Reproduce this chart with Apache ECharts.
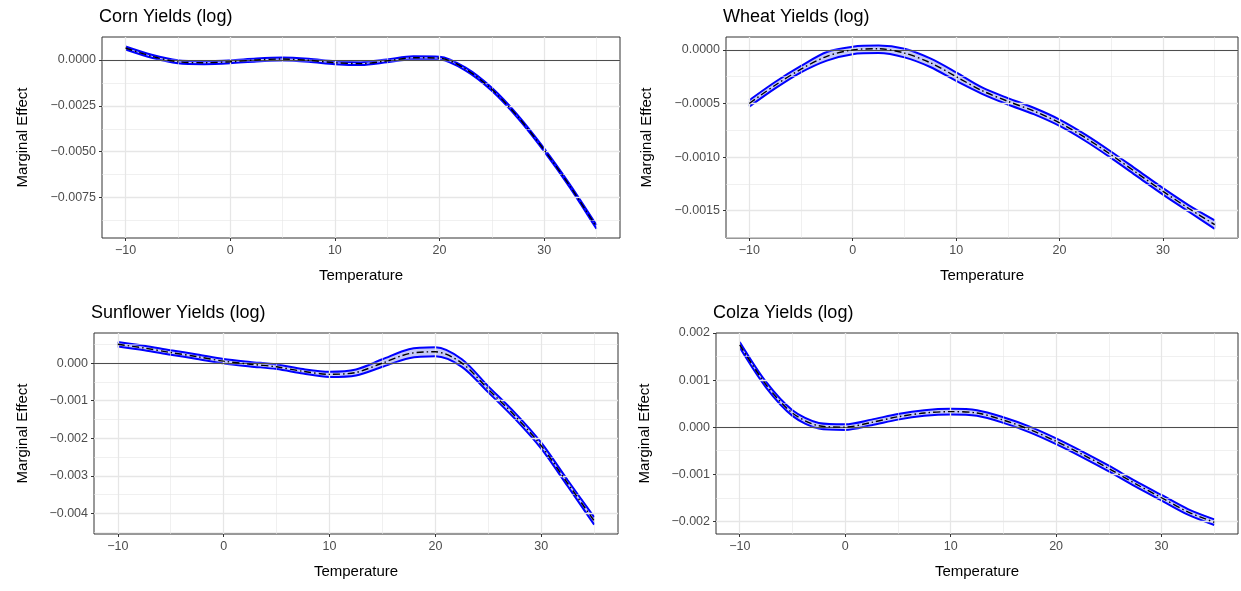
<!DOCTYPE html>
<html>
<head>
<meta charset="utf-8">
<script src="https://cdn.jsdelivr.net/npm/echarts@6/dist/echarts.min.js"></script>
<style>html,body{margin:0;padding:0;background:#fff}#chart{width:1241px;height:591px}</style>
</head>
<body>
<div id="chart"></div>
<script>
// temperature grid shared by all panels
const temps = [-10, -7.5, -5, -2.5, 0, 2.5, 5, 7.5, 10, 12.5, 15, 17.5, 20, 22.5, 25, 27.5, 30, 32.5, 35];

const cornMid = [0.00065, 0.0002, -0.0001, -0.00015, -0.0001, 0.0, 0.00005, -0.00002, -0.00015, -0.0002, -0.00005, 0.00012, 0.0001, -0.0005, -0.0016, -0.0031, -0.0049, -0.0069, -0.0091];
const cornLow = [0.00057, 0.00012, -0.00018, -0.00023, -0.00018, -0.00008, -0.00003, -0.0001, -0.00023, -0.00028, -0.00013, 0.00004, 0.00002, -0.00058, -0.00168, -0.00318, -0.00498, -0.00698, -0.0092];
const cornUpp = [0.00073, 0.00028, -0.00002, -0.00007, -0.00002, 0.00008, 0.00013, 0.00006, -0.00007, -0.00012, 0.00003, 0.0002, 0.00018, -0.00042, -0.00152, -0.00302, -0.00482, -0.00682, -0.009];

const wheatMid = [-0.0005, -0.00033, -0.00018, -0.00006, 0.0, 0.00001, -0.00003, -0.00012, -0.00025, -0.00038, -0.00048, -0.00057, -0.00068, -0.00082, -0.00098, -0.00115, -0.00132, -0.00148, -0.00163];
const wheatLow = [-0.00053, -0.00036, -0.00021, -0.0001, -0.00004, -0.00003, -0.00007, -0.00016, -0.00029, -0.00041, -0.00051, -0.0006, -0.00071, -0.00085, -0.00101, -0.00118, -0.00135, -0.00151, -0.00167];
const wheatUpp = [-0.00047, -0.0003, -0.00015, -0.00002, 0.00003, 0.00004, 0.00001, -0.00008, -0.00021, -0.00035, -0.00045, -0.00054, -0.00065, -0.00079, -0.00095, -0.00112, -0.00129, -0.00145, -0.00159];

const sunMid = [0.0005, 0.0004, 0.00028, 0.00017, 0.00005, -0.00003, -0.0001, -0.00022, -0.0003, -0.00025, 0.0, 0.00025, 0.0003, 0.0, -0.0007, -0.0014, -0.0022, -0.0032, -0.0042];
const sunLow = [0.00044, 0.00034, 0.00022, 0.00011, -0.00001, -0.00009, -0.00016, -0.00028, -0.00037, -0.00033, -0.0001, 0.00013, 0.00018, -0.0001, -0.00078, -0.00148, -0.00228, -0.00328, -0.0043];
const sunUpp = [0.00056, 0.00046, 0.00034, 0.00023, 0.00011, 0.00003, -0.00004, -0.00016, -0.00023, -0.00017, 0.0001, 0.00037, 0.00042, 0.0001, -0.00062, -0.00132, -0.00212, -0.00312, -0.0041];

const colzaMid = [0.00175, 0.0009, 0.0003, 0.00003, 0.0, 0.0001, 0.00022, 0.0003, 0.00033, 0.0003, 0.00015, -0.00005, -0.0003, -0.00058, -0.00088, -0.0012, -0.0015, -0.0018, -0.00202];
const colzaLow = [0.00169, 0.00084, 0.00024, -0.00003, -0.00006, 0.00004, 0.00016, 0.00024, 0.00027, 0.00024, 0.00009, -0.00011, -0.00036, -0.00064, -0.00094, -0.00126, -0.00156, -0.00186, -0.00208];
const colzaUpp = [0.00181, 0.00096, 0.00036, 0.00009, 0.00006, 0.00016, 0.00028, 0.00036, 0.00039, 0.00036, 0.00021, 0.00001, -0.00024, -0.00052, -0.00082, -0.00114, -0.00144, -0.00174, -0.00196];

const titles = ['Corn Yields (log)', 'Wheat Yields (log)', 'Sunflower Yields (log)', 'Colza Yields (log)'];
const xTicks = [-10, 0, 10, 20, 30];
const xGrid = [-10, -5, 0, 5, 10, 15, 20, 25, 30, 35];
const yTicksCorn = [0, -0.0025, -0.005, -0.0075];
const yTicksWheat = [0, -0.0005, -0.001, -0.0015];
const yTicksSun = [0, -0.001, -0.002, -0.003, -0.004];
const yTicksColza = [0.002, 0.001, 0, -0.001, -0.002];

const panels = [
  { mid: cornMid, low: cornLow, upp: cornUpp, ticks: yTicksCorn, dec: 4, min: -0.0097, max: 0.00125, grid: { left: 102, top: 37, width: 518, height: 201 }, gap: 72 },
  { mid: wheatMid, low: wheatLow, upp: wheatUpp, ticks: yTicksWheat, dec: 4, min: -0.001755, max: 0.00012, grid: { left: 726, top: 37, width: 512, height: 201 }, gap: 72 },
  { mid: sunMid, low: sunLow, upp: sunUpp, ticks: yTicksSun, dec: 3, min: -0.00455, max: 0.0008, grid: { left: 94, top: 333, width: 524, height: 201 }, gap: 64 },
  { mid: colzaMid, low: colzaLow, upp: colzaUpp, ticks: yTicksColza, dec: 3, min: -0.00227, max: 0.002, grid: { left: 716, top: 333, width: 522, height: 201 }, gap: 64 }
];

const X_MIN = -12.25, X_MAX = 37.25;
const fmt = (v, d) => (v < 0 ? '\u2212' : '') + Math.abs(v).toFixed(d);
const gridLineStyle = w => ({ color: '#e6e6e6', width: w, type: 'solid' });

const option = { animation: false, title: [], grid: [], xAxis: [], yAxis: [], series: [] };

panels.forEach((p, i) => {
  option.title.push({
    text: titles[i], left: p.grid.left - 8, top: p.grid.top - 34,
    textStyle: { fontFamily: 'Liberation Sans', fontWeight: 'normal', fontSize: 18, color: '#000' }
  });
  option.grid.push(Object.assign({ show: true, borderColor: '#333', borderWidth: 1, backgroundColor: '#fff' }, p.grid));
  option.xAxis.push({
    type: 'value', gridIndex: i, min: X_MIN, max: X_MAX,
    name: 'Temperature', nameLocation: 'middle', nameGap: 30,
    nameTextStyle: { fontFamily: 'Liberation Sans', fontSize: 15, color: '#000' },
    axisLine: { show: false, onZero: false }, splitLine: { show: false },
    axisTick: { show: true, inside: false, customValues: xTicks, length: 3, lineStyle: { color: '#333' } },
    axisLabel: { customValues: xTicks, formatter: v => fmt(v, 0), color: '#4d4d4d', fontSize: 12.5, fontFamily: 'Liberation Sans', margin: 6 }
  });
  option.yAxis.push({
    type: 'value', gridIndex: i, min: p.min, max: p.max,
    name: 'Marginal Effect', nameLocation: 'middle', nameGap: p.gap,
    nameTextStyle: { fontFamily: 'Liberation Sans', fontSize: 15, color: '#000' },
    axisLine: { show: false, onZero: false }, splitLine: { show: false },
    axisTick: { show: true, inside: false, customValues: p.ticks, length: 3, lineStyle: { color: '#333' } },
    axisLabel: { customValues: p.ticks, formatter: v => fmt(v, p.dec), color: '#4d4d4d', fontSize: 12.5, fontFamily: 'Liberation Sans', margin: 6 }
  });

  // background grid lines (major on ticks, minor halfway)
  const step = Math.abs(p.ticks[0] - p.ticks[1]);
  const lines = xGrid.map(x => [
    { coord: [x, p.min], lineStyle: gridLineStyle(x % 10 === 0 ? 1.3 : 0.6) },
    { coord: [x, p.max] }
  ]);
  const yHi = Math.max(...p.ticks) + step;
  for (let k = 0; k < 2 * p.ticks.length + 4; k++) {
    const y = +(yHi - k * step / 2).toFixed(8);
    if (y <= p.min || y >= p.max) continue;
    lines.push([
      { coord: [X_MIN, y], lineStyle: gridLineStyle(k % 2 === 0 ? 1.3 : 0.6) },
      { coord: [X_MAX, y] }
    ]);
  }
  option.series.push({
    type: 'line', xAxisIndex: i, yAxisIndex: i, data: [], silent: true, z: 1,
    markLine: { silent: true, symbol: 'none', label: { show: false }, animation: false, data: lines }
  });

  const pts = arr => temps.map((t, j) => [t, arr[j]]);
  // ribbon between lower and upper bound, projected through the axes
  option.series.push({
    type: 'custom', xAxisIndex: i, yAxisIndex: i, silent: true, z: 2,
    data: [0],
    renderItem: (params, api) => {
      const fwd = temps.map((t, j) => api.coord([t, p.upp[j]]));
      const back = temps.map((t, j) => api.coord([t, p.low[j]])).reverse();
      return {
        type: 'polygon',
        shape: { points: fwd.concat(back), smooth: 0.3 },
        style: { fill: 'rgba(90,100,235,0.35)' }
      };
    }
  });
  // zero line
  option.series.push({
    type: 'line', xAxisIndex: i, yAxisIndex: i, data: [], z: 3,
    markLine: { silent: true, symbol: 'none', label: { show: false }, animation: false,
      data: [[{ coord: [X_MIN, 0] }, { coord: [X_MAX, 0] }]], lineStyle: { color: '#4d4d4d', width: 1.2, type: 'solid' } }
  });
  [p.low, p.upp].forEach(arr => option.series.push({
    type: 'line', xAxisIndex: i, yAxisIndex: i, data: pts(arr), smooth: 0.3, showSymbol: false,
    lineStyle: { color: '#0000ff', width: 2 }, z: 4
  }));
  option.series.push({
    type: 'line', xAxisIndex: i, yAxisIndex: i, data: pts(p.mid), smooth: 0.3, showSymbol: false,
    lineStyle: { color: '#000', width: 1.4, type: [7, 3, 1.5, 3] }, z: 5
  });
});

echarts.init(document.getElementById('chart')).setOption(option);
</script>
</body>
</html>
